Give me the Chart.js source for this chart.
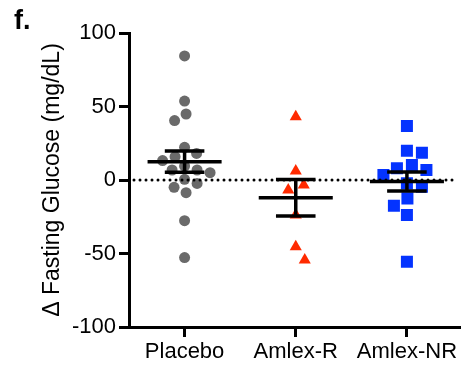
<!DOCTYPE html>
<html><head><meta charset="utf-8">
<script src="https://cdn.jsdelivr.net/npm/chart.js@4.4.0/dist/chart.umd.min.js"></script>
<style>
html,body{margin:0;padding:0;background:#fff;}
#wrap{position:relative;width:469px;height:372px;}
#lbl{position:absolute;left:14px;top:7px;font:bold 27px "Liberation Sans",Arial,sans-serif;line-height:27px;color:#000;}
</style>
</head><body>
<div id="wrap"><canvas id="c" width="469" height="372"></canvas><div id="lbl">f.</div></div>
<script>
const categories = ['Placebo', 'Amlex-R', 'Amlex-NR'];
const placebo = [84.4, 53.7, 44.9, 40.4, 22.2, 18.1, 15.9, 13.2, 9.5, 6.8, 5.0, 6.8, 0.5, -2.3, -5.0, -8.6, -27.7, -52.8];
const amlexR = [43.0, 6.1, -3.4, -6.8, -23.8, -45.4, -54.4];
const amlexNR = [36.7, 19.9, 18.6, 10.2, 8.0, 6.8, 3.4, -2.3, -4.5, -12.5, -17.5, -23.8, -55.6];
const yTicks = [-100, -50, 0, 50, 100];

const groups = [placebo, amlexR, amlexNR];
const FAMILY = '"Liberation Sans", Arial, sans-serif';
Chart.defaults.font.family = FAMILY;

function stats(v) {
  const n = v.length;
  const m = v.reduce((a, b) => a + b, 0) / n;
  const sd = Math.sqrt(v.reduce((a, b) => a + (b - m) * (b - m), 0) / (n - 1));
  return { mean: m, sem: sd / Math.sqrt(n) };
}

const swarm = {
  id: 'swarm',
  afterDatasetsUpdate(chart) {
    chart.data.datasets.forEach((ds, di) => {
      const meta = chart.getDatasetMeta(di);
      const cx = chart.scales.x.getPixelForValue(di + 1);
      const minD = ds.swarmGap;
      const order = meta.data.map((e, i) => i).sort((a, b) => meta.data[a].y - meta.data[b].y);
      const placed = [];
      order.forEach(i => {
        const el = meta.data[i];
        let off = 0;
        for (let k = 0; k < 600; k++) {
          const cand = (k % 2 === 1 ? 1 : -1) * Math.ceil(k / 2) * 0.5;
          if (placed.every(p => Math.hypot(p.x - (cx + cand), p.y - el.y) >= minD)) { off = cand; break; }
        }
        el.x = cx + off;
        placed.push({ x: el.x, y: el.y });
      });
    });
  }
};

const bars = {
  id: 'bars',
  afterDatasetsDraw(chart) {
    const ctx = chart.ctx, xs = chart.scales.x, ys = chart.scales.y, ca = chart.chartArea;
    ctx.save();
    const y0 = ys.getPixelForValue(0);
    ctx.strokeStyle = '#000';
    ctx.lineWidth = 3;
    ctx.lineCap = 'round';
    ctx.setLineDash([0, 6]);
    ctx.beginPath();
    ctx.moveTo(ca.left + 5, y0);
    ctx.lineTo(ca.right - 5, y0);
    ctx.stroke();
    ctx.setLineDash([]);
    ctx.lineCap = 'butt';
    ctx.lineWidth = 3.5;
    groups.forEach((vals, i) => {
      const s = stats(vals);
      const c = i + 1;
      const px = xs.getPixelForValue(c);
      const pm = ys.getPixelForValue(s.mean);
      const pt = ys.getPixelForValue(s.mean + s.sem);
      const pb = ys.getPixelForValue(s.mean - s.sem);
      ctx.beginPath();
      ctx.moveTo(xs.getPixelForValue(c - 0.333), pm); ctx.lineTo(xs.getPixelForValue(c + 0.333), pm);
      ctx.moveTo(xs.getPixelForValue(c - 0.178), pt); ctx.lineTo(xs.getPixelForValue(c + 0.178), pt);
      ctx.moveTo(xs.getPixelForValue(c - 0.178), pb); ctx.lineTo(xs.getPixelForValue(c + 0.178), pb);
      ctx.moveTo(px, pt); ctx.lineTo(px, pb);
      ctx.stroke();
    });
    ctx.restore();
  }
};

const tickGrid = { drawOnChartArea: false, drawTicks: true, tickLength: 10, tickWidth: 3, tickColor: '#000' };

new Chart(document.getElementById('c'), {
  type: 'scatter',
  data: {
    datasets: [
      { label: categories[0], data: placebo.map(v => ({ x: 1, y: v })), pointStyle: 'circle', pointRadius: 5.5,
        backgroundColor: '#6a6a6a', borderColor: '#6a6a6a', borderWidth: 0, swarmGap: 13 },
      { label: categories[1], data: amlexR.map(v => ({ x: 2, y: v })), pointStyle: 'triangle', pointRadius: 7,
        backgroundColor: '#ff2a00', borderColor: '#ff2a00', borderWidth: 0, swarmGap: 16 },
      { label: categories[2], data: amlexNR.map(v => ({ x: 3, y: v })), pointStyle: 'rect', pointRadius: 8.5,
        backgroundColor: '#0433ff', borderColor: '#0433ff', borderWidth: 0, swarmGap: 15 }
    ]
  },
  options: {
    responsive: false,
    devicePixelRatio: 1,
    animation: false,
    events: [],
    layout: { padding: { top: 33, left: 0, right: 0, bottom: 0 } },
    plugins: { legend: { display: false }, tooltip: { enabled: false }, title: { display: false } },
    scales: {
      x: {
        type: 'linear', min: 0.5, max: 3.482,
        afterBuildTicks: s => { s.ticks = categories.map((c, i) => ({ value: i + 1 })); },
        ticks: { callback: v => categories[v - 1], color: '#000', font: { size: 22 }, padding: 2, maxRotation: 0, autoSkip: false },
        grid: tickGrid,
        border: { width: 3, color: '#000' },
        afterFit: s => { s.height = 45; }
      },
      y: {
        min: -100, max: 100,
        afterBuildTicks: s => { s.ticks = yTicks.map(v => ({ value: v })); },
        ticks: { color: '#000', font: { size: 22 }, padding: 3 },
        grid: tickGrid,
        border: { width: 3, color: '#000' },
        title: { display: true, text: 'Δ Fasting Glucose (mg/dL)', color: '#000', font: { size: 23 }, padding: { top: 39, bottom: 0 } },
        afterFit: s => { s.width = 129; }
      }
    }
  },
  plugins: [swarm, bars]
});
</script>
</body></html>
